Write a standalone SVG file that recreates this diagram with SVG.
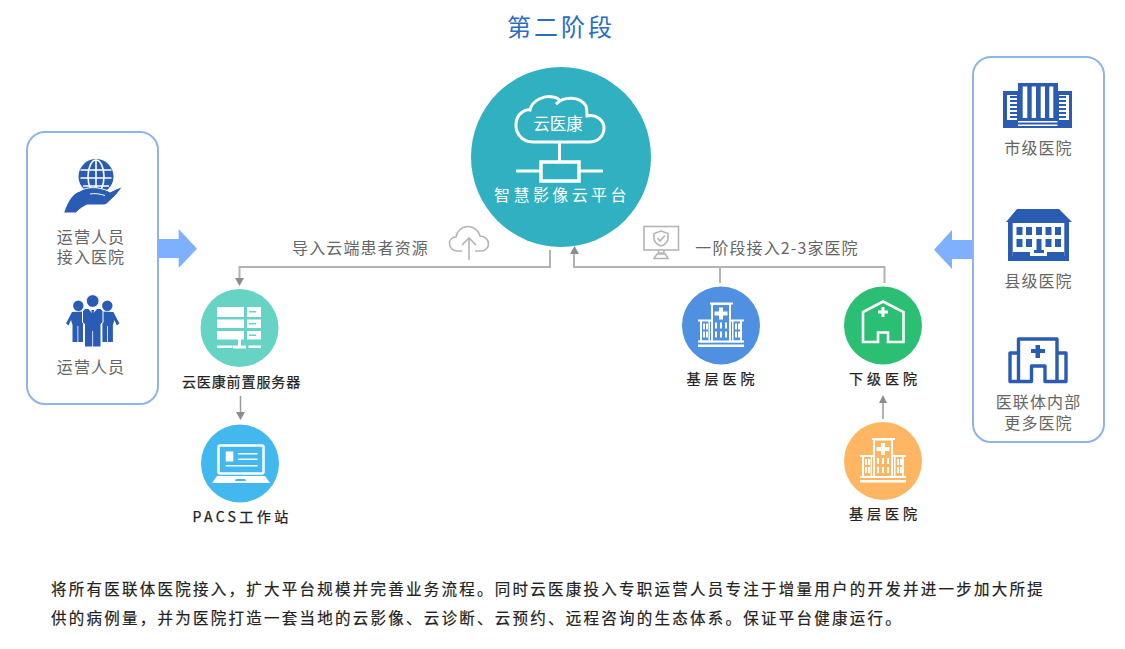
<svg xmlns="http://www.w3.org/2000/svg" xmlns:xlink="http://www.w3.org/1999/xlink" width="1125" height="649" viewBox="0 0 1125 649">
<style>
text{font-family:"Noto Sans CJK SC","Noto Sans",sans-serif;text-anchor:middle;dominant-baseline:central}
.g{fill:#666;font-size:16px;letter-spacing:1.100px}
.k{fill:#222;stroke:#222;stroke-width:.25;font-size:14px}
.p{fill:#222;stroke:#222;stroke-width:.2;font-size:15.5px;letter-spacing:2.250px;text-anchor:start}
.panel{fill:#fff;stroke:#8fb4e8;stroke-width:2}
.big{fill:#7fb0ff}
.b{fill:#2a5cb3}
.w{fill:#fff}
.ws{fill:none;stroke:#fff}
.bs{fill:none;stroke:#2a5cb3}
.line{fill:none;stroke:#b3b3b3;stroke-width:2}
.thin{fill:none;stroke:#9a9a9a;stroke-width:1.5}
.head{fill:#8c8c8c}
.ic{fill:none;stroke:#b5b5b5;stroke-width:1.6}
</style>
<defs>
<g id="hospital">
<path class="w" d="M-11-23H12V-21H10V17H-10V-21H-11Z"/>
<path d="M-8-20.500H8V17H-8Z" fill="currentColor"/>
<path class="w" d="M-2-18H2V-14H6.500V-10H2V-6H-2V-10H-6.500V-14H-2Z"/>
<path class="w" d="M-23-6H-10V-4H-11V17H-21V-4H-23ZM10-6H23V-4H21V17H11V-4H10Z"/>
<path d="M-19-4H-12.500V15H-19ZM12.500-4H19V15H12.500Z" fill="currentColor"/>
<g class="w"><rect x="-6" y="-3" width="2" height="6"/><rect x="-1" y="-3" width="2" height="6"/><rect x="4" y="-3" width="2" height="6"/><rect x="-6" y="6" width="2" height="6"/><rect x="-1" y="6" width="2" height="6"/><rect x="4" y="6" width="2" height="6"/><rect x="-18" y="-2" width="2" height="6"/><rect x="-15" y="-2" width="2" height="6"/><rect x="-18" y="6" width="2" height="6"/><rect x="-15" y="6" width="2" height="6"/><rect x="14" y="-2" width="2" height="6"/><rect x="17" y="-2" width="2" height="6"/><rect x="14" y="6" width="2" height="6"/><rect x="17" y="6" width="2" height="6"/>
<rect x="-23" y="15" width="46" height="2"/><rect x="-23" y="19" width="46" height="2.500"/></g>
</g>
</defs>
<text x="561" y="25" fill="#2b6cc4" font-size="24" style="letter-spacing:3px">第二阶段</text>
<g id="connectors">
<path class="line" d="M550 250V267H239.500V279"/><path class="head" d="M235 278H244L239.500 286Z"/>
<path class="thin" d="M240.500 396V413"/><path class="head" d="M236 412H245L240.500 420Z"/>
<path class="line" d="M574 254V267H884.500V283M720 267V283"/><path class="head" d="M570 254H579L574.500 246Z"/>
<path class="thin" d="M883 419V403"/><path class="head" d="M879 403H887L883 395Z"/>
</g>
<g id="node-center">
<circle cx="561" cy="157" r="90" fill="#30b0c0"/>
<path class="ws" stroke-width="3" d="M533 142C520 142 515.500 131 516 124C516.500 113 526 109 530 110C532 100 545 95 553 97C558 98 562 100 556 104C564 96 580 96 586 106C587 110 587 112 587 116C596 114 604 120 604 128C604 137 597 142 589 142Z"/>
<path class="ws" stroke-width="3" d="M559.500 143V161M516 171H540M579 171H603"/>
<rect class="ws" stroke-width="3.500" x="541" y="162" width="38" height="19"/>
<text x="558" y="123" fill="#fff" font-size="16.500">云医康</text>
<text x="562" y="194" fill="#fff" font-size="16" style="letter-spacing:3.400px">智慧影像云平台</text>
</g>
<g id="panel-left">
<rect class="panel" x="27" y="132" width="131" height="272" rx="18"/>
<path class="big" d="M158 239H178.700V229L197 248.700L178.700 268V258H158Z"/>
<circle class="b" cx="96" cy="176.500" r="17.500"/>
<g fill="none" stroke="#fff" stroke-width="1.600"><ellipse cx="96" cy="176.500" rx="8" ry="16.500"/><path d="M96 160V193M80.500 170H111.500M80.500 178H111.500M83 186H109"/></g>
<path class="b" stroke="#fff" stroke-width="1" d="M63.500 213C68 200 73 193 80 191C84 188 92 187 98 188C103 189 107 190 110 192C114 190 118 188 122.500 186.500C119 192 115 196 112 199C108 202 107 205 103 205H87C83 207 78 210 76 213Z"/>
<path d="M90 194C95 193 100 194 105 195.500" fill="none" stroke="#fff" stroke-width="1"/>
<text class="g" x="91" y="236">运营人员</text>
<text class="g" x="91" y="256">接入医院</text>
<g class="b">
<circle cx="78.300" cy="305.700" r="5.200"/><circle cx="107.300" cy="305.700" r="5.200"/>
<path d="M72 312L83 311.500V342H72.500V325L71 320L68.500 325.500L66 323.500Z"/>
<path d="M113.400 312L102.400 311.500V342H112.900V325L114.400 320L116.900 325.500L119.400 323.500Z"/>
<circle cx="92.700" cy="301" r="6.300" stroke="#fff" stroke-width=".8"/>
<path stroke="#fff" stroke-width="1" d="M85 308.500H100.500L103 311V322.500L101 324V347H84.500V324L82.500 322.500V311Z"/>
</g>
<path d="M88.500 309L92.700 314L97 309ZM77.500 326H78.300V342H77.500ZM107.200 326H108V342H107.200ZM92.300 331H93.100V347H92.300Z" fill="#fff"/>
<path d="M91.500 310H94L93.800 313L94.500 327L92.700 329L91 327L91.700 313Z" fill="#2a5cb3"/>
<text class="g" x="91" y="366">运营人员</text>
</g>
<g id="panel-right">
<rect class="panel" x="973" y="57" width="131" height="385" rx="18"/>
<path class="big" d="M972 240H952V230L934 249.700L952 269V259H972Z"/>
<g id="icon-city">
<path class="b" d="M1003 91H1018V83H1058V91H1072V128H1003Z"/>
<path class="w" d="M1022.700 86.500H1027.300V118H1022.700ZM1031.700 86.500H1036V118H1031.700ZM1040.700 86.500H1045V118H1040.700ZM1049.300 86.500H1053.300V118H1049.300ZM1018 121H1057.500V122.500H1018ZM1018 124.500H1057.500V126H1018Z"/>
<path class="w" d="M1007 95H1017V120H1007ZM1059 95H1069V120H1059Z"/>
<path class="b" d="M1010 96H1017V98H1010ZM1010 100H1017V102H1010ZM1010 104H1017V106H1010ZM1010 108H1017V110H1010ZM1010 112H1017V114H1010ZM1010 116H1017V118H1010ZM1059 96H1066V98H1059ZM1059 100H1066V102H1059ZM1059 104H1066V106H1059ZM1059 108H1066V110H1059ZM1059 112H1066V114H1059ZM1059 116H1066V118H1059Z"/>
</g>
<text class="g" x="1038.500" y="147">市级医院</text>
<g id="icon-county">
<path class="b" d="M1017 209H1059L1072 222H1069V261H1008V222H1006Z"/>
<path class="w" d="M1012.700 223H1064.300V256H1012.700Z"/>
<path class="b" d="M1012.700 252H1030V261H1012.700ZM1047 252H1064.300V261H1047Z"/>
<g class="b"><rect x="1016.500" y="227" width="6" height="8"/><rect x="1026" y="227" width="6" height="8"/><rect x="1036" y="227" width="6" height="8"/><rect x="1045.500" y="227" width="6" height="8"/><rect x="1055" y="227" width="6" height="8"/><rect x="1016.500" y="239" width="6" height="8"/><rect x="1026" y="239" width="6" height="8"/><rect x="1045.500" y="239" width="6" height="8"/><rect x="1055" y="239" width="6" height="8"/><path d="M1036.500 239H1041.500V250H1044V253H1034V250H1036.500Z"/><rect x="1031" y="256" width="16" height="1.500"/></g>
</g>
<text class="g" x="1038.500" y="280">县级医院</text>
<g id="icon-hospital">
<path class="bs" stroke-width="3.400" stroke-linejoin="round" d="M1018.500 381.500V339H1057V381.500M1018.500 353H1010V381.500H1031.500V366H1045V381.500H1066V353H1057"/>
<path class="b" d="M1035.500 345H1040V349H1045V353H1040V358H1035.500V353H1031V349H1035.500Z"/>
</g>
<text class="g" x="1038.500" y="401">医联体内部</text>
<text class="g" x="1038.500" y="422">更多医院</text>
</g>
<g id="label-import">
<text class="g" x="360.500" y="247">导入云端患者资源</text>
<g class="ic"><path d="M462 251H457C452 251 449.500 247 449.500 243.500C449.500 239.500 452.500 237 456 237C457 231 462 226.500 468 226.500C474 226.500 479 231 480 236C485 236 488.500 239.500 488.500 244C488.500 248 485 251 481 251H475"/><path d="M469 260V238M462 245L469 238L476 245"/></g>
</g>
<g id="label-stage">
<text class="g" x="777" y="247">一阶段接入2-3家医院</text>
<g class="ic"><rect x="644" y="226.500" width="34.500" height="23.500"/><path d="M661 231L668 233.500V238C668 242 665 244.500 661 246C657 244.500 654 242 654 238V233.500ZM657.500 238L660 241L665 235.500"/><path d="M658.500 250V253H664V250M657 254L654 258.500H668L665.500 254Z"/></g>
</g>
<g id="node-server">
<circle cx="239.500" cy="328" r="39" fill="#66d3c5"/>
<path class="w" d="M217 307H244V317H217ZM247 307H261V317H247ZM217 319.500H244V328H217ZM247 319.500H261V328H247ZM217 331H244V339.500H217ZM247 331H261V339.500H247ZM217 345.500H232.500V348H217ZM233 345.500H246V348.500H233ZM248.500 345.500H261V348H248.500ZM238 339.500H241V346H238Z"/>
<path d="M249 311H256V312.500H249ZM249 323H256V324.500H249ZM249 334.500H256V336H249Z" fill="#66d3c5"/>
<text class="k" x="241.500" y="381" style="letter-spacing:.9px">云医康前置服务器</text>
</g>
<g id="node-pacs">
<circle cx="240" cy="463.500" r="39" fill="#42b8ee"/>
<rect class="ws" stroke-width="2.500" x="218.500" y="445.500" width="45" height="28" rx="1.500"/>
<path class="w" d="M225.700 451.500H233.300V461.500H225.700ZM238 453H257.500V454.500H238ZM238 458.500H257.500V460H238ZM225.700 465H257.500V466.500H225.700ZM217 476H265L270 483H212Z"/>
<path d="M236 479H245L246 481H235Z" fill="#42b8ee"/>
<text class="k" x="242" y="516" style="letter-spacing:3.400px">PACS工作站</text>
</g>
<g id="node-base-a" color="#5090e0">
<circle cx="721" cy="325.500" r="39" fill="#5090e0"/>
<use xlink:href="#hospital" href="#hospital" x="721" y="325.500"/>
<text class="k" x="722.500" y="378" style="letter-spacing:4px">基层医院</text>
</g>
<g id="node-lower">
<circle cx="883" cy="325.500" r="39" fill="#2abf72"/>
<path class="ws" stroke-width="2.600" stroke-linejoin="miter" d="M863 342V312L883 301.500L903.500 312V342H888V332.500H878V342Z"/>
<path class="w" d="M881.500 307H884.500V310.500H888V313.500H884.500V317H881.500V313.500H878V310.500H881.500Z"/>
<text class="k" x="885" y="378" style="letter-spacing:4px">下级医院</text>
</g>
<g id="node-base-b" color="#ffb662">
<circle cx="883" cy="461" r="39" fill="#ffb662"/>
<use xlink:href="#hospital" href="#hospital" x="883" y="461"/>
<text class="k" x="885" y="513" style="letter-spacing:4px">基层医院</text>
</g>
<text class="p" x="51" y="588">将所有医联体医院接入，扩大平台规模并完善业务流程。同时云医康投入专职运营人员专注于增量用户的开发并进一步加大所提</text>
<text class="p" x="51" y="617">供的病例量，并为医院打造一套当地的云影像、云诊断、云预约、远程咨询的生态体系。保证平台健康运行。</text>
</svg>
